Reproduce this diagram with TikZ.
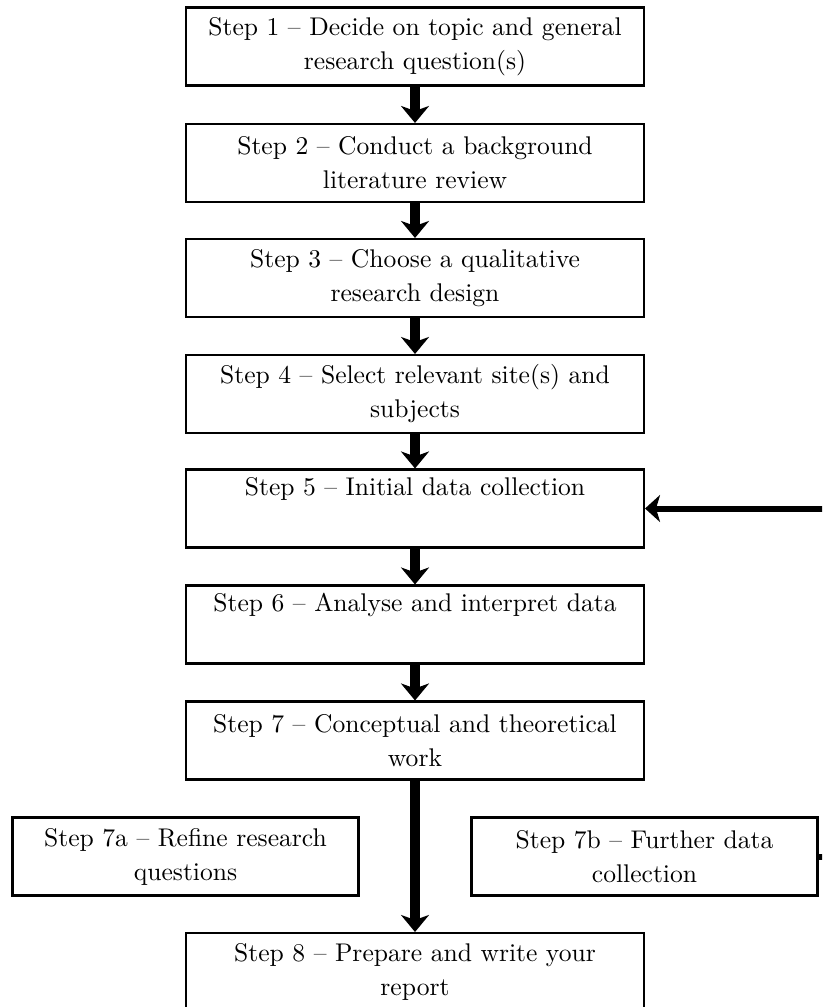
\documentclass[tikz,border=0pt]{standalone}
\usetikzlibrary{arrows.meta}
% one drawing unit = one pixel of the 822 x 1007 canvas
\def\pxu{0.391pt}
\begin{document}
\begin{tikzpicture}[x=0.391pt, y=-0.391pt,
  stepbox/.style={draw, line width=0.8pt, minimum width=458*\pxu,
    minimum height=78*\pxu, text width=450*\pxu, align=center,
    inner sep=0pt, font=\fontsize{10}{13.3}\selectfont},
  sidebox/.style={stepbox, minimum width=346*\pxu, text width=340*\pxu},
  flow/.style={line width=10*\pxu,
    -{Stealth[length=17*\pxu, width=28*\pxu, inset=5*\pxu]}},
  loopback/.style={line width=6*\pxu,
    -{Stealth[length=15*\pxu, width=27*\pxu, inset=4*\pxu]}}]

\useasboundingbox (0,0) rectangle (822,1007);
\fill[white] (0,0) rectangle (822,1007);
\clip (0,0) rectangle (822,1007);

% main sequence of steps
\node[stepbox] (s1) at (415,46.5) {Step 1 -- Decide on topic and general\\research question(s)};
\node[stepbox] (s2) at (415,163) {Step 2 -- Conduct a background\\literature review};
\node[stepbox] (s3) at (415,278) {Step 3 -- Choose a qualitative\\research design};
\node[stepbox] (s4) at (415,394) {Step 4 -- Select relevant site(s) and\\subjects};
\node[stepbox] (s5) at (415,508.5) {Step 5 -- Initial data collection\\\strut};
\node[stepbox] (s6) at (415,624.5) {Step 6 -- Analyse and interpret data\\\strut};
\node[stepbox] (s7) at (415,740.5) {Step 7 -- Conceptual and theoretical\\work};
\node[stepbox] (s8) at (415,972) {Step 8 -- Prepare and write your\\report};

% side steps
\node[sidebox] (s7a) at (185.5,856.5) {Step 7a -- Refine research\\questions};
\node[sidebox] (s7b) at (644.5,856.5) {Step 7b -- Further data\\collection};

% connectors
\draw[flow] (s1) -- (s2);
\draw[flow] (s2) -- (s3);
\draw[flow] (s3) -- (s4);
\draw[flow] (s4) -- (s5);
\draw[flow] (s5) -- (s6);
\draw[flow] (s6) -- (s7);
\draw[flow] (s7) -- (s8);

% further data collection feeds back into step 5
\coordinate (loopcorner) at (860,856.5);
\draw[loopback] (s7b.east) -- (loopcorner) |- (s5.east);
\end{tikzpicture}
\end{document}
